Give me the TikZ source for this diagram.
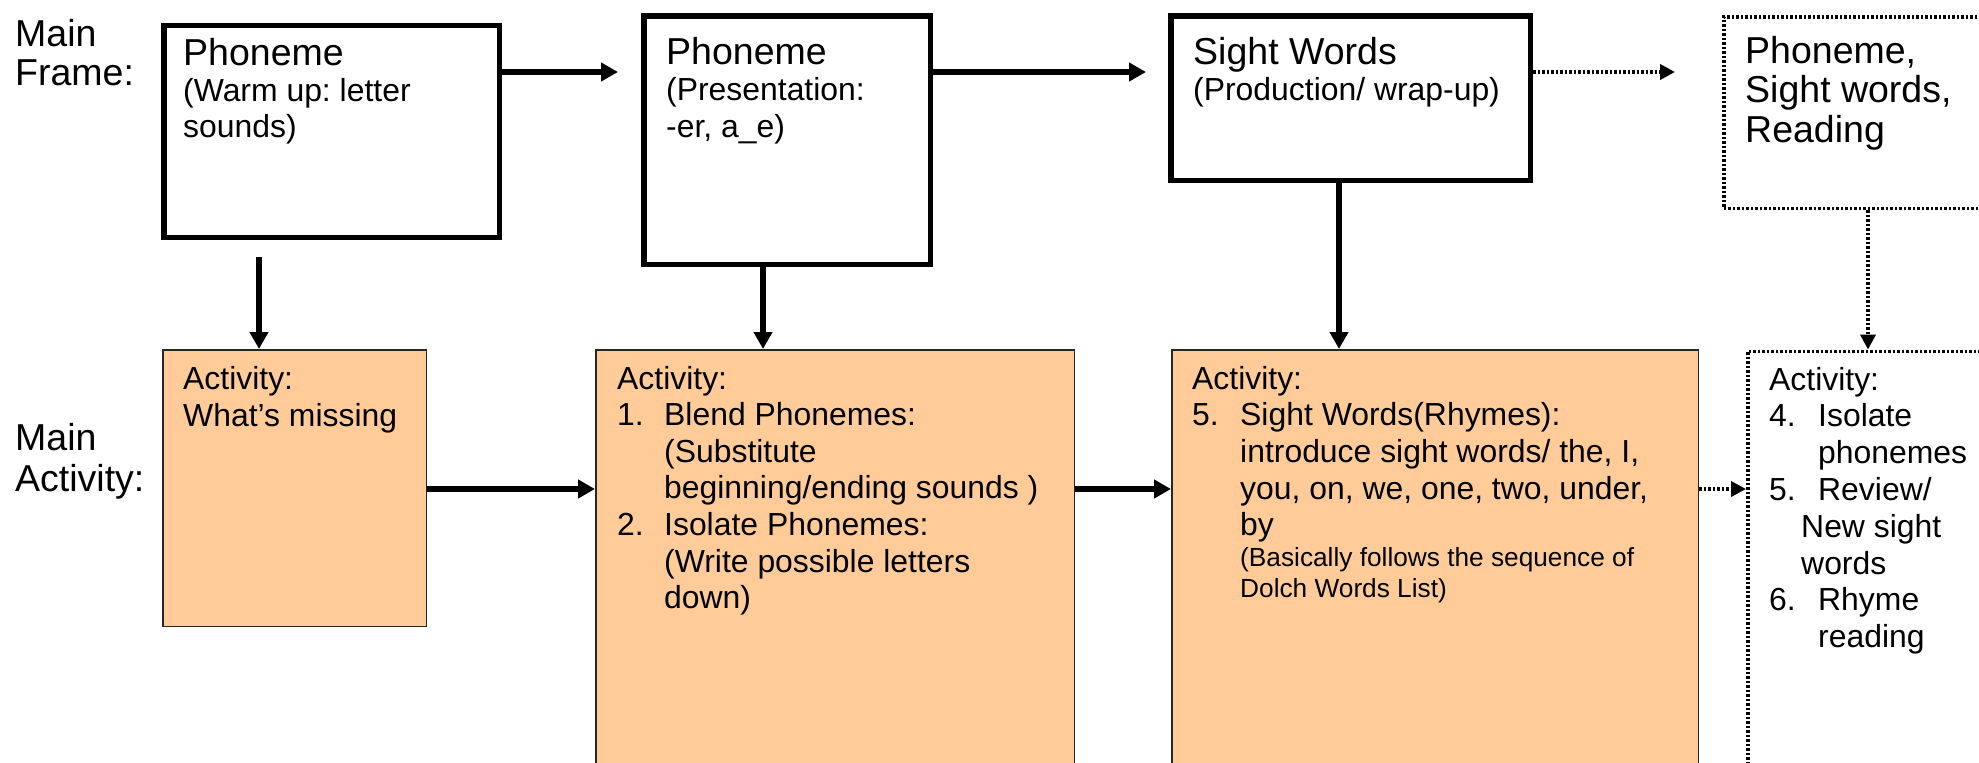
\documentclass[tikz,border=0pt]{standalone}
\usepackage{fontspec}
\setmainfont{Liberation Sans}
\usetikzlibrary{arrows.meta}
\definecolor{actfill}{RGB}{255,204,153}
\newcommand\fsBig{\fontsize{37.5}{40}\selectfont}
\newcommand\fsTiny{\fontsize{26.25}{31}\selectfont}
\newcommand\nsp{\frenchspacing\spaceskip=0pt\xspaceskip=0pt\relax}
\begin{document}
\begin{tikzpicture}[x=1pt,y=-1pt,
  frame/.style={draw=black,line width=5.5pt,rectangle,inner sep=0pt,anchor=north west},
  dotframe/.style={draw=black,line width=3.5pt,dash pattern=on 2.6pt off 1.9pt,rectangle,inner sep=0pt,anchor=north west},
  actbox/.style={draw=black!85,line width=1.5pt,fill=actfill,rectangle,inner sep=0pt,anchor=north west},
  arr/.style={line width=5.5pt,-{Triangle[length=17pt,width=18pt]}},
  darr/.style={line width=3.6pt,dash pattern=on 2.6pt off 1.9pt,-{Triangle[length=15pt,width=15pt]}},
  txt/.style={anchor=base west,inner sep=0pt,text width=700pt,align=flush left}]
\useasboundingbox (0,0) rectangle (1979,763);
\fill[white] (0,0) rectangle (1979,763);
\clip (0,0) rectangle (1979,763);

% labels
\node[txt,font=\fontsize{37.5}{39}\selectfont] (lblframe) at (15,46) {\nsp Main\\Frame:\par};
\node[txt,font=\fontsize{37.5}{41}\selectfont] (lblact) at (15,450) {\nsp Main\\Activity:\par};

% main frame boxes
\node[frame,minimum width=335.5pt,minimum height=211.8pt] (b1) at (161,22.7) {};
\node[frame,minimum width=286.5pt,minimum height=248.2pt] (b2) at (641,13.3) {};
\node[frame,minimum width=359.5pt,minimum height=164.2pt] (b3) at (1168,13.3) {};
\node[dotframe,minimum width=400pt,minimum height=191.6pt] (b4) at (1722,15) {};

% activity boxes
\node[actbox,minimum width=263.5pt,minimum height=276.5pt] (a1) at (162,349) {};
\node[actbox,minimum width=478.5pt,minimum height=450pt] (a2) at (595,349) {};
\node[actbox,minimum width=526.5pt,minimum height=450pt] (a3) at (1171,349) {};
\node[dotframe,minimum width=400pt,minimum height=450pt] (a4) at (1746,349.5) {};

% texts in frame boxes
\node[txt,font=\fontsize{31.9}{40}\selectfont] (b1t) at (183,65)
  {\nsp{\fsBig Phoneme}\\ \fontsize{31.9}{36}\selectfont (Warm up: letter\\ sounds)\par};
\node[txt,font=\fontsize{31.9}{36.8}\selectfont] (b2t) at (666,64)
  {\nsp{\fsBig Phoneme}\\ (Presentation:\\ -er, a\_e)\par};
\node[txt,font=\fontsize{31.9}{36.5}\selectfont] (b3t) at (1193,64)
  {\nsp{\fsBig Sight Words}\\ (Production/ wrap-up)\par};
\node[txt,font=\fontsize{37.5}{39.5}\selectfont] (b4t) at (1745,63)
  {\nsp Phoneme,\\ Sight words,\\ Reading\par};

% texts in activity boxes
\node[txt,font=\fontsize{31.9}{37}\selectfont] (a1t) at (183,389)
  {\nsp Activity:\\ What’s missing\par};
\node[txt,font=\fontsize{31.9}{36.6}\selectfont] (a2t) at (617,389) {\nsp Activity:\\
  \makebox[47pt][l]{1.}Blend Phonemes:\\
  \hspace*{47pt}(Substitute\\
  \hspace*{47pt}beginning/ending sounds )\\
  \makebox[47pt][l]{2.}Isolate Phonemes:\\
  \hspace*{47pt}(Write possible letters\\
  \hspace*{47pt}down)\par};
\node[txt,font=\fontsize{31.9}{36.7}\selectfont] (a3t) at (1192,389) {\nsp Activity:\\
  \makebox[48pt][l]{5.}Sight Words(Rhymes):\\
  \hspace*{48pt}introduce sight words/ the, I,\\
  \hspace*{48pt}you, on, we, one, two, under,\\
  \hspace*{48pt}by\\
  \fsTiny\nsp\hspace*{48pt}(Basically follows the sequence of\\
  \hspace*{48pt}Dolch Words List)\par};
\node[txt,font=\fontsize{31.9}{36.8}\selectfont] (a4t) at (1769,390) {\nsp Activity:\\
  \makebox[49pt][l]{4.}Isolate\\
  \hspace*{49pt}phonemes\\
  \makebox[49pt][l]{5.}Review/\\
  \hspace*{32pt}New sight\\
  \hspace*{32pt}words\\
  \makebox[49pt][l]{6.}Rhyme\\
  \hspace*{49pt}reading\par};

% connectors, top row
\coordinate (t12) at (618,72);
\coordinate (t23) at (1146,72);
\coordinate (t34) at (1675,72);
\draw[arr] (b1.east |- t12) -- (t12);
\draw[arr] (b2.east |- t23) -- (t23);
\draw[darr] (b3.east |- t34) -- (t34);

% vertical connectors
\coordinate (s1) at (259,257);
\coordinate (s2) at (763,0);
\coordinate (s3) at (1339,0);
\coordinate (s4) at (1868,0);
\draw[arr] (s1) -- (s1 |- a1.north);
\draw[arr] (s2 |- b2.south) -- (s2 |- a2.north);
\draw[arr] (s3 |- b3.south) -- (s3 |- a3.north);
\draw[darr] (s4 |- b4.south) -- (s4 |- a4.north);

% bottom row connectors
\coordinate (hrow) at (0,489);
\draw[arr] (a1.east |- hrow) -- (a2.west |- hrow);
\draw[arr] (a2.east |- hrow) -- (a3.west |- hrow);
\draw[darr] (a3.east |- hrow) -- (a4.west |- hrow);
\end{tikzpicture}
\end{document}
